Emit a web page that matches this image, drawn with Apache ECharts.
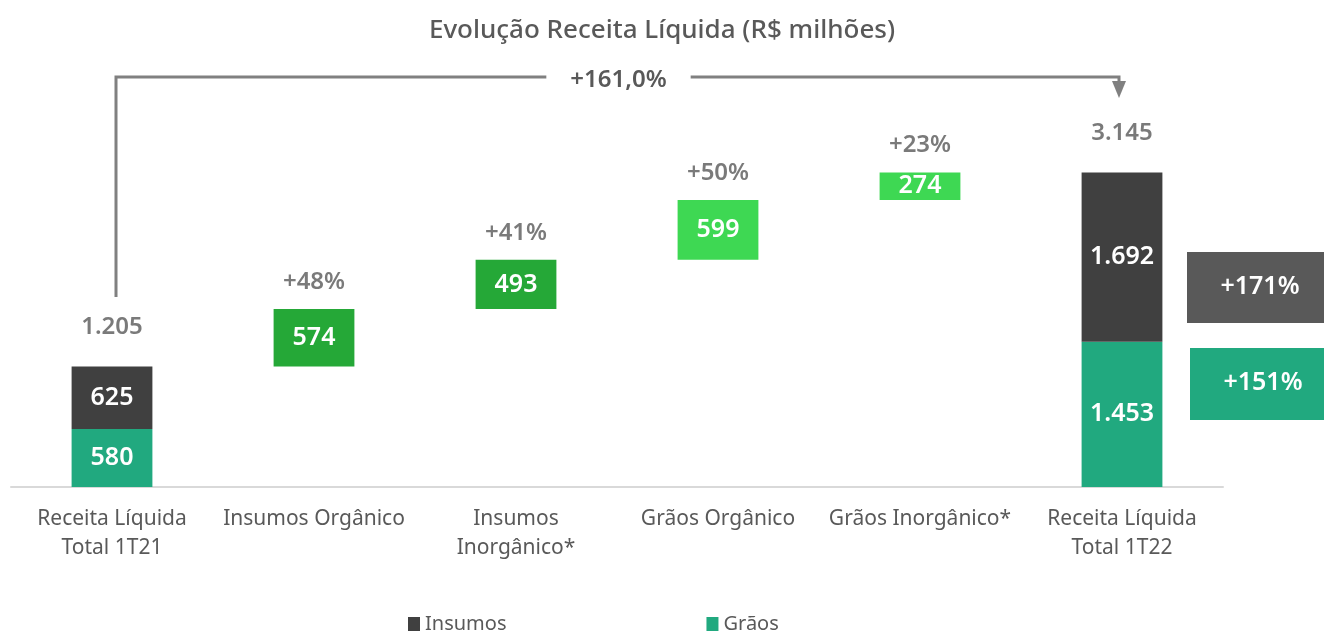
<!DOCTYPE html>
<html><head><meta charset="utf-8">
<script src="https://cdn.jsdelivr.net/npm/echarts@6/dist/echarts.min.js"></script>
<style>html,body{margin:0;padding:0;background:#fff}#c{width:1324px;height:632px}</style>
</head><body><div id="c"></div>
<script>
const categories = ['Receita Líquida\nTotal 1T21','Insumos Orgânico','Insumos\nInorgânico*','Grãos Orgânico','Grãos Inorgânico*','Receita Líquida\nTotal 1T22'];
const insumos = [625, null, null, null, null, 1692];
const graos = [580, null, null, null, null, 1453];
const deltas = [null, 574, 493, 599, 274, null];
const deltaPct = [null, '+48%', '+41%', '+50%', '+23%', null];
const totalGrowth = '+161,0%';
const insumosGrowth = '+171%';
const graosGrowth = '+151%';
const title = 'Evolução Receita Líquida (R$ milhões)';

function fmt(v){ return String(v).replace(/\B(?=(\d{3})+(?!\d))/g, '.'); }

// waterfall helpers derived from data
const base = [], tops = [];
let run = 0;
categories.forEach((c,i)=>{
  if (deltas[i] != null) { base.push(run); run += deltas[i]; tops.push(run); }
  else { base.push(null); run = (insumos[i]||0) + (graos[i]||0); tops.push(run); }
});
const deltaColors = ['#25a837','#25a837','#25a837','#3ed853','#3ed853','#3ed853'];
const FONT = '"Noto Sans", sans-serif';
const GREY = '#595959';
const LW = 600;

const chart = echarts.init(document.getElementById('c'));
const inLabel = { show: true, position: 'inside', color: '#fff', fontSize: 25, fontWeight: LW, fontFamily: FONT, formatter: p => fmt(p.value) };
chart.setOption({
  animation: false,
  textStyle: { fontFamily: FONT },
  title: { text: title, left: 'center', top: 13, textStyle: { fontFamily: FONT, fontSize: 26, fontWeight: 500, color: GREY } },
  legend: {
    data: ['Insumos','Grãos'], left: 403, top: 609, itemWidth: 12, itemHeight: 14, itemGap: 200, icon: 'rect',
    textStyle: { fontFamily: FONT, fontSize: 20, color: GREY }
  },
  grid: { left: 11, right: 101, top: 57, bottom: 145 },
  xAxis: {
    type: 'category', data: categories,
    axisLine: { lineStyle: { color: '#d9d9d9', width: 2 } },
    axisTick: { show: false },
    axisLabel: { interval: 0, fontFamily: FONT, fontSize: 21, color: GREY, lineHeight: 29, margin: 18 }
  },
  yAxis: { type: 'value', min: 0, max: 4300, show: false, splitLine: { show: false } },
  series: [
    { name: 'base', type: 'bar', stack: 'w', data: base, barWidth: '40%', silent: true,
      itemStyle: { color: 'transparent' } },
    { name: 'Grãos', type: 'bar', stack: 'w', data: graos, barWidth: '40%',
      itemStyle: { color: '#21a97f' }, label: inLabel },
    { name: 'Insumos', type: 'bar', stack: 'w', data: insumos, barWidth: '40%',
      itemStyle: { color: '#404040' }, label: inLabel },
    { name: 'delta', type: 'bar', stack: 'w', barWidth: '40%',
      data: deltas.map((v,i)=> v==null ? null : { value: v, itemStyle: { color: deltaColors[i] } }),
      label: inLabel },
    { name: 'totals', type: 'scatter', symbolSize: 0, silent: true,
      data: categories.map((c,i)=> deltas[i]==null ? [i, tops[i]] : null).filter(d=>d),
      label: { show: true, position: 'top', distance: 27, color: GREY, fontSize: 24, fontWeight: LW, lineHeight: 24, fontFamily: FONT,
        formatter: p => fmt(p.value[1]) } },
    { name: 'pct', type: 'scatter', symbolSize: 0, silent: true,
      data: categories.map((c,i)=> deltas[i]!=null ? [i, tops[i], deltaPct[i]] : null).filter(d=>d),
      label: { show: true, position: 'top', distance: 15, color: GREY, fontSize: 24, fontWeight: LW, lineHeight: 24, fontFamily: FONT,
        formatter: p => p.value[2] } }
  ]
});

// annotation: bracket and growth boxes
const xL = chart.convertToPixel({gridIndex:0}, [0, 0])[0] + 4;
const xR = chart.convertToPixel({gridIndex:0}, [categories.length-1, 0])[0] - 3;
const yTop = 77, yLeftBottom = 297;
const lc = '#808080';
chart.setOption({
  graphic: [
    { type: 'polyline', shape: { points: [[xL, yLeftBottom],[xL, yTop],[xR, yTop],[xR, 84]] }, style: { stroke: lc, lineWidth: 3, fill: null } },
    { type: 'polygon', shape: { points: [[xR-7, 81],[xR+7, 81],[xR, 98]] }, style: { fill: lc } },
    { type: 'text', x: (xL + xR)/2 + 1, y: 80, style: { text: totalGrowth, font: LW + ' 24px ' + FONT, fill: GREY, align: 'center', verticalAlign: 'middle', backgroundColor: '#fff', padding: [4, 24] } },
    { type: 'rect', shape: { x: 1187, y: 252, width: 137, height: 71 }, style: { fill: '#595959' } },
    { type: 'text', x: 1260, y: 287, style: { text: insumosGrowth, font: LW + ' 25px ' + FONT, fill: '#fff', align: 'center', verticalAlign: 'middle' } },
    { type: 'rect', shape: { x: 1190, y: 348, width: 134, height: 72 }, style: { fill: '#21a97f' } },
    { type: 'text', x: 1263, y: 383, style: { text: graosGrowth, font: LW + ' 25px ' + FONT, fill: '#fff', align: 'center', verticalAlign: 'middle' } }
  ]
});
</script></body></html>
